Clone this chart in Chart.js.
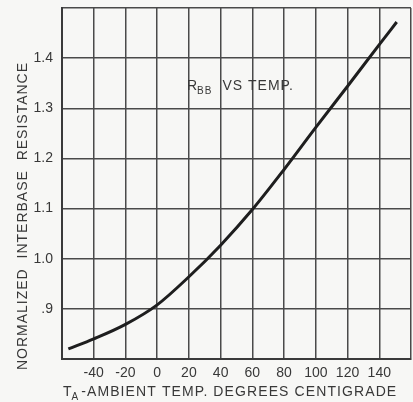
<!DOCTYPE html>
<html>
<head>
<meta charset="utf-8">
<script src="https://cdn.jsdelivr.net/npm/chart.js@4.4.1/dist/chart.umd.min.js"></script>
<style>
  html, body { margin: 0; padding: 0; background: #f7f7f5; }
  #box { width: 413px; height: 402px; }
</style>
</head>
<body>
<div id="box"><canvas id="graficoRbb" width="413" height="402"></canvas></div>
<script>
// Valores (temperatura em °C, resistência normalizada)
const temperaturas = [-56, -40, -20, 0, 20, 40, 60, 80, 100, 120, 140, 151];
const resistencia  = [0.820, 0.840, 0.869, 0.908, 0.964, 1.027, 1.098, 1.178, 1.262, 1.344, 1.427, 1.472];

const ticksX = [-40, -20, 0, 20, 40, 60, 80, 100, 120, 140];
const ticksY = [0.9, 1.0, 1.1, 1.2, 1.3, 1.4];
const rotulosY = ['.9', '1.0', '1.1', '1.2', '1.3', '1.4'];

const corTexto = '#383838';
const fonte = 'Liberation Sans';

// Escreve um texto com letras espaçadas
function escrever(ctx, texto, x, y, tamanho, espaco) {
    ctx.font = tamanho + 'px "' + fonte + '"';
    ctx.letterSpacing = espaco + 'px';
    ctx.fillText(texto, x, y);
    return x + ctx.measureText(texto).width;
}

// Desenha os textos com subscrito (título interno e títulos dos eixos)
const textosPlugin = {
    id: 'textos',
    afterDraw(chart) {
        const ctx = chart.ctx;
        ctx.save();
        ctx.fillStyle = corTexto;
        ctx.textBaseline = 'alphabetic';

        // R_BB VS TEMP dentro do gráfico
        let px = 187, py = 90;
        px = escrever(ctx, 'R', px, py, 14, 0);
        px = escrever(ctx, 'BB', px, py + 4, 10, 1);
        escrever(ctx, 'VS TEMP.', px + 10, py, 14, 1);

        // Título do eixo X
        px = 63; py = 396;
        px = escrever(ctx, 'T', px, py, 14, 1);
        px = escrever(ctx, 'A', px - 1, py + 4, 10, 0);
        escrever(ctx, '-AMBIENT TEMP. DEGREES CENTIGRADE', px + 3, py, 14, 1.1);

        // Título do eixo Y (rotacionado)
        ctx.translate(27, 216);
        ctx.rotate(-Math.PI / 2);
        ctx.textAlign = 'center';
        escrever(ctx, 'NORMALIZED  INTERBASE  RESISTANCE', 0, 0, 14, 1);
        ctx.restore();
    }
};

const ctx = document.getElementById('graficoRbb').getContext('2d');
new Chart(ctx, {
    type: 'line',
    data: {
        datasets: [{
            data: temperaturas.map((t, i) => ({ x: t, y: resistencia[i] })),
            borderColor: '#1e1e1e',
            borderWidth: 3,
            pointRadius: 0,
            cubicInterpolationMode: 'monotone',
            fill: false
        }]
    },
    options: {
        responsive: false,
        animation: false,
        layout: { padding: { top: 8, right: 2, left: 0, bottom: 0 } },
        plugins: { legend: { display: false }, tooltip: { enabled: false } },
        scales: {
            x: {
                type: 'linear',
                min: -60,
                max: 160,
                afterBuildTicks(scale) {
                    scale.ticks = [-60].concat(ticksX, [160]).map(v => ({ value: v }));
                },
                afterFit(scale) {
                    scale.height = 43;
                    scale.paddingLeft = 0;
                    scale.paddingRight = 0;
                },
                grid: { color: '#4a4a4a', lineWidth: 1.5, drawTicks: false },
                border: { color: '#3a3a3a', width: 2 },
                ticks: {
                    padding: 6,
                    color: corTexto,
                    font: { family: fonte, size: 14 },
                    callback: v => ticksX.includes(v) ? String(v) : ''
                }
            },
            y: {
                min: 0.8,
                max: 1.5,
                afterBuildTicks(scale) {
                    scale.ticks = [0.8].concat(ticksY, [1.5]).map(v => ({ value: v }));
                },
                afterFit(scale) {
                    scale.width = 62;
                    // sem folga extra para os rótulos vazios das pontas
                    scale.paddingTop = 0;
                    scale.paddingBottom = 0;
                },
                grid: { color: '#4a4a4a', lineWidth: 1.5, drawTicks: false },
                border: { color: '#3a3a3a', width: 2 },
                ticks: {
                    padding: 9,
                    color: corTexto,
                    font: { family: fonte, size: 14 },
                    callback: v => {
                        const i = ticksY.findIndex(t => Math.abs(t - v) < 1e-6);
                        return i >= 0 ? rotulosY[i] : '';
                    }
                }
            }
        }
    },
    plugins: [textosPlugin]
});
</script>
</body>
</html>
